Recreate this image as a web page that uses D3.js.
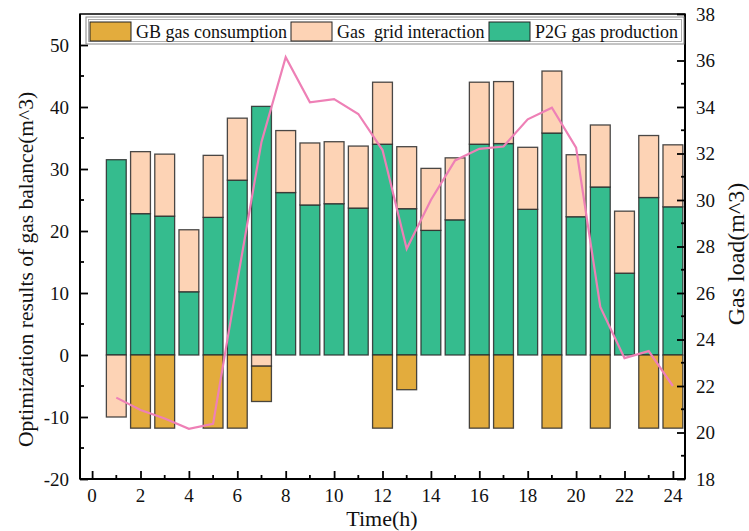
<!DOCTYPE html>
<html>
<head>
<meta charset="utf-8">
<script src="https://cdn.jsdelivr.net/npm/d3@7"></script>
<style>
  body { margin: 0; background: #fff; }
  svg text { font-family: "Liberation Serif", "Times New Roman", serif; fill: #111; }
</style>
</head>
<body>
<svg width="749" height="531"></svg>
<script>
// datos
const hours = d3.range(1, 25);
const p2gGas = [31.5, 22.8, 22.4, 10.2, 22.2, 28.2, 40.1, 26.2, 24.2, 24.4, 23.7, 34.0,
  23.6, 20.1, 21.8, 34.0, 34.1, 23.5, 35.8, 22.3, 27.1, 13.2, 25.4, 23.9];
const gridGas = [-10, 10, 10, 10, 10, 10, -1.8, 10, 10, 10, 10, 10,
  10, 10, 10, 10, 10, 10, 10, 10, 10, 10, 10, 10];
const gbGas = [0, -11.8, -11.8, 0, -11.8, -11.8, -5.7, 0, 0, 0, 0, -11.8,
  -5.6, 0, 0, -11.8, -11.8, 0, -11.8, 0, -11.8, 0, -11.8, -11.8];
const gasLoad = [21.5, 20.97, 20.6, 20.16, 20.37, 26.5, 32.5, 36.14, 34.2, 34.34, 33.7, 32.15,
  27.9, 30.0, 31.7, 32.2, 32.3, 33.47, 33.97, 32.25, 25.4, 23.2, 23.5, 22.0];
const leftTicks = d3.range(-20, 51, 10);
const rightTicks = d3.range(18, 39, 2);
const xTicks = d3.range(0, 25, 2);
const legendNames = ["GB gas consumption", "Gas\u00a0 grid interaction", "P2G gas production"];

const colors = { gb: "#e3ac3d", grid: "#fdd3b5", p2g: "#35bc8e", load: "#ee80b6" };

const svg = d3.select("svg");
const pLeft = 80, pRight = 685, pTop = 14, pBottom = 479;

const x = d3.scaleLinear().domain([-0.5, 24.5]).range([pLeft, pRight]);
const y = d3.scaleLinear().domain([-20, 55]).range([pBottom, pTop]);
const y2 = d3.scaleLinear().domain([18, 38]).range([pBottom, pTop]);
const barW = x(0.82) - x(0);

// segmentos apilados: positivo (P2G abajo, red arriba), negativo (red, luego GB)
const segs = [];
hours.forEach((h, i) => {
  let pos = 0, neg = 0;
  const add = (v, key) => {
    if (v > 0) { segs.push({ h, key, y0: pos, y1: pos + v }); pos += v; }
    else if (v < 0) { segs.push({ h, key, y0: neg, y1: neg + v }); neg += v; }
  };
  add(p2gGas[i], "p2g");
  add(gridGas[i], "grid");
  add(gbGas[i], "gb");
});

svg.append("g")
  .selectAll("rect")
  .data(segs)
  .enter()
  .append("rect")
  .attr("x", (d) => x(d.h) - barW / 2)
  .attr("width", barW)
  .attr("y", (d) => y(Math.max(d.y0, d.y1)))
  .attr("height", (d) => Math.abs(y(d.y0) - y(d.y1)))
  .attr("fill", (d) => colors[d.key])
  .attr("stroke", "#2a2a2a")
  .attr("stroke-opacity", 0.85)
  .attr("stroke-width", 1.3);

// línea de carga de gas
svg.append("path")
  .datum(gasLoad)
  .attr("fill", "none")
  .attr("stroke", colors.load)
  .attr("stroke-width", 2.2)
  .attr("d", d3.line().x((d, i) => x(hours[i])).y((d) => y2(d)));

// ticks menores
const minorLeft = d3.range(-15, 55, 10);
const minorRight = d3.range(19, 38, 2);
const minorX = d3.range(1, 25, 2);

// eje izquierdo (ticks hacia dentro)
const gl = svg.append("g").attr("transform", `translate(${pLeft},0)`);
gl.call(d3.axisRight(y).tickValues(leftTicks).tickSize(8).tickFormat(""));
gl.selectAll(".minor").data(minorLeft).enter().append("line")
  .attr("x1", 0).attr("x2", 4).attr("y1", (d) => y(d)).attr("y2", (d) => y(d));
svg.append("g").selectAll("text").data(leftTicks).enter().append("text")
  .attr("x", pLeft - 11).attr("y", (d) => y(d)).attr("dy", "0.35em")
  .attr("text-anchor", "end").attr("font-size", 19).text((d) => d);

// eje derecho
const gr = svg.append("g").attr("transform", `translate(${pRight},0)`);
gr.call(d3.axisLeft(y2).tickValues(rightTicks).tickSize(8).tickFormat(""));
gr.selectAll(".minor").data(minorRight).enter().append("line")
  .attr("x1", 0).attr("x2", -4).attr("y1", (d) => y2(d)).attr("y2", (d) => y2(d));
svg.append("g").selectAll("text").data(rightTicks).enter().append("text")
  .attr("x", pRight + 11).attr("y", (d) => y2(d)).attr("dy", "0.35em")
  .attr("font-size", 19).text((d) => d);

// eje inferior
const gx = svg.append("g").attr("transform", `translate(0,${pBottom})`);
gx.call(d3.axisTop(x).tickValues(xTicks).tickSize(8).tickFormat(""));
gx.selectAll(".minor").data(minorX).enter().append("line")
  .attr("y1", 0).attr("y2", -4).attr("x1", (d) => x(d)).attr("x2", (d) => x(d));
svg.append("g").selectAll("text").data(xTicks).enter().append("text")
  .attr("x", (d) => x(d)).attr("y", pBottom + 23)
  .attr("text-anchor", "middle").attr("font-size", 19).text((d) => d);

[gl, gr, gx].forEach((g) => {
  g.select(".domain").remove();
  g.selectAll("line").attr("stroke", "#000").attr("stroke-width", 1.8);
});

// marco
svg.append("rect")
  .attr("x", pLeft).attr("y", pTop)
  .attr("width", pRight - pLeft).attr("height", pBottom - pTop)
  .attr("fill", "none").attr("stroke", "#000").attr("stroke-width", 1.5);
[[pLeft, pTop, pLeft, pBottom], [pRight, pTop, pRight, pBottom], [pLeft, pBottom, pRight, pBottom]]
  .forEach(([x1, y1, x2, y2v]) => {
    svg.append("line").attr("x1", x1).attr("y1", y1).attr("x2", x2).attr("y2", y2v)
      .attr("stroke", "#000").attr("stroke-width", 2);
  });

// títulos
svg.append("text")
  .attr("transform", `translate(33,${(pTop + pBottom) / 2 + 23}) rotate(-90)`)
  .attr("text-anchor", "middle").attr("font-size", 21.5)
  .text("Optimization results of gas balance(m^3)");
svg.append("text")
  .attr("transform", "translate(744,254) rotate(-90)")
  .attr("text-anchor", "middle").attr("font-size", 24)
  .text("Gas load(m^3)");
svg.append("text")
  .attr("x", 382).attr("y", 525.5)
  .attr("text-anchor", "middle").attr("font-size", 22)
  .text("Time(h)");

// leyenda
const legend = svg.append("g");
legend.append("rect").attr("x", 86).attr("y", 17).attr("width", 598).attr("height", 27)
  .attr("fill", "#fff").attr("stroke", "#888").attr("stroke-width", 1);
legend.append("rect").attr("x", 88.5).attr("y", 19.5).attr("width", 593).attr("height", 22)
  .attr("fill", "none").attr("stroke", "#999").attr("stroke-width", 0.8);
const legendX = [90, 291, 489];
const legendKeys = ["gb", "grid", "p2g"];
legendKeys.forEach((k, i) => {
  legend.append("rect").attr("x", legendX[i]).attr("y", 22).attr("width", 41).attr("height", 19)
    .attr("fill", colors[k]).attr("stroke", "#222").attr("stroke-width", 1);
  legend.append("text").attr("x", legendX[i] + 46).attr("y", 37.5)
    .attr("font-size", 18).text(legendNames[i]);
});
</script>
</body>
</html>
